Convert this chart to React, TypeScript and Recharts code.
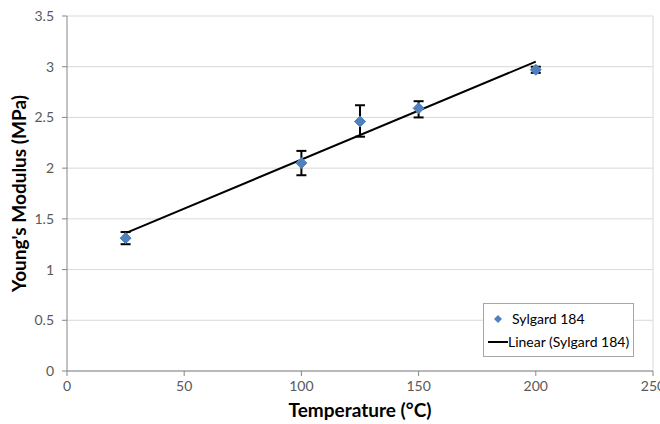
import React from "react";
import {
  CartesianGrid,
  ErrorBar,
  ReferenceLine,
  Scatter,
  ScatterChart,
  XAxis,
  YAxis
} from "recharts";

// temperature (°C)
const temperatures = [25, 100, 125, 150, 200];
// Young's modulus (MPa)
const modulus = [1.31, 2.05, 2.46, 2.59, 2.97];
// error bars [below, above]
const errors: [number, number][] = [
  [0.06, 0.06],
  [0.12, 0.12],
  [0.15, 0.16],
  [0.09, 0.07],
  [0.03, 0.03]
];
// linear trendline end points
const trendX = [25, 200];
const trendY = [1.36, 3.05];

const xTicks = [0, 50, 100, 150, 200, 250];
const yTicks = [0, 0.5, 1, 1.5, 2, 2.5, 3, 3.5];

const points = temperatures.map((t, i) => ({ x: t, y: modulus[i], err: errors[i] }));
const trend = trendX.map((t, i) => ({ x: t, y: trendY[i] }));

const blue = "#4f81bd";
const font = "Lato, 'Open Sans', sans-serif";
const tickStyle = { fill: "#595959", fontSize: 14, fontFamily: font };

function Diamond(props: any) {
  const { cx, cy } = props;
  if (cx == null || cy == null) return <g />;
  const r = 5.5;
  return (
    <polygon
      points={`${cx},${cy - r} ${cx + r},${cy} ${cx},${cy + r} ${cx - r},${cy}`}
      fill={blue}
      stroke={blue}
      strokeWidth={1}
      strokeLinejoin="round"
    />
  );
}

function NoDot() {
  return <g />;
}

function LegendBox() {
  return (
    <div
      style={{
        position: "absolute",
        left: 483,
        top: 303,
        width: 151,
        height: 54,
        border: "1px solid #a6a6a6",
        background: "#fff",
        fontFamily: font,
        fontSize: 14,
        color: "#000",
        boxSizing: "border-box",
        padding: "3px 0 0 4px",
        lineHeight: "23px"
      }}
    >
      <div style={{ display: "flex", alignItems: "center" }}>
        <svg width={20} height={12}>
          <polygon points="10,2 14,6 10,10 6,6" fill={blue} />
        </svg>
        <span style={{ marginLeft: 4 }}>Sylgard 184</span>
      </div>
      <div style={{ display: "flex", alignItems: "center" }}>
        <svg width={20} height={12}>
          <line x1={0} y1={6} x2={20} y2={6} stroke="#000" strokeWidth={2} />
        </svg>
        <span>Linear (Sylgard 184)</span>
      </div>
    </div>
  );
}

export default function App() {
  return (
    <div style={{ position: "absolute", left: 0, top: 0, width: 660, height: 424, background: "#fff" }}>
      <ScatterChart width={660} height={424} margin={{ top: 16, right: 7, left: 0, bottom: 0 }}>
        <CartesianGrid stroke="#d9d9d9" vertical={false} />
        <XAxis
          type="number"
          dataKey="x"
          domain={[0, 250]}
          ticks={xTicks}
          interval={0}
          height={53}
          tick={tickStyle}
          tickSize={5}
          tickMargin={5}
          stroke="#868686"
          label={{
            value: "Temperature (°C)",
            position: "center",
            dy: 13,
            style: { fontFamily: font, fontSize: 19, fontWeight: 700, fill: "#000" }
          }}
        />
        <YAxis
          type="number"
          dataKey="y"
          domain={[0, 3.5]}
          ticks={yTicks}
          interval={0}
          width={67}
          tick={tickStyle}
          tickSize={5}
          tickMargin={8}
          stroke="#868686"
          label={{
            value: "Young's Modulus (MPa)",
            angle: -90,
            position: "center",
            dx: -14,
            style: { fontFamily: font, fontSize: 19, fontWeight: 700, fill: "#000", textAnchor: "middle" }
          }}
        />
        <ReferenceLine x={250} stroke="#d9d9d9" />
        <Scatter
          name="Linear (Sylgard 184)"
          data={trend}
          line={{ stroke: "#000", strokeWidth: 2 }}
          shape={NoDot}
          isAnimationActive={false}
        />
        <Scatter name="Sylgard 184" data={points} shape={Diamond} isAnimationActive={false}>
          <ErrorBar dataKey="err" direction="y" width={5} stroke="#000" strokeWidth={2} />
        </Scatter>
      </ScatterChart>
      <LegendBox />
    </div>
  );
}
